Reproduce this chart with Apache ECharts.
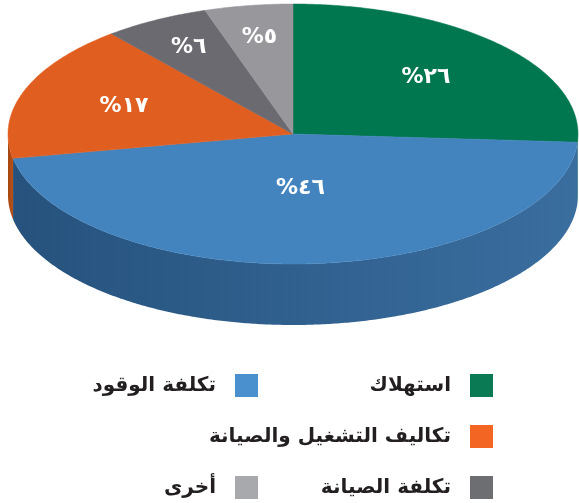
<!DOCTYPE html>
<html>
<head>
<meta charset="utf-8">
<script src="https://cdn.jsdelivr.net/npm/echarts@6/dist/echarts.min.js"></script>
<style>
html,body{margin:0;padding:0;background:#fff;}
#c{width:579px;height:503px;}
</style>
</head>
<body>
<div id="c"></div>
<script>
// ---- data ----
var categories = ['استهلاك', 'تكلفة الوقود', 'تكاليف التشغيل والصيانة', 'تكلفة الصيانة', 'أخرى'];
var values = [26, 46, 17, 6, 5];

// ---- styles ----
var topColors = ['#00774f', '#4384bf', '#e05e20', '#6a6a70', '#98979c'];
var sideColors = [
  ['#005a3c', '#006a46'],
  ['#26527d', '#3a6e9f'],
  ['#a6460f', '#b8501a'],
  ['#4f4f54', '#5a5a60'],
  ['#76757a', '#828186']
];
var legendColors = ['#0a7a55', '#4a90cf', '#f26522', '#6d6e71', '#a7a9ac'];
var labelRadius = [0.64, 0.42, 0.63, 0.76, 0.75];

var geo = { cx: 293, cy: 134, rx: 285, ry: 130, depth: 61 };

function toArabicDigits(n) {
  return String(n).replace(/\d/g, function (d) { return '٠١٢٣٤٥٦٧٨٩'[+d]; });
}

var total = values.reduce(function (a, b) { return a + b; }, 0);

function pt(theta, dy) {
  return [geo.cx + geo.rx * Math.sin(theta), geo.cy - geo.ry * Math.cos(theta) + (dy || 0)];
}

function makeRender(idx) {
  return function (params, api) {
    var v = api.value(0);
    var before = 0;
    for (var k = 0; k < idx; k++) before += values[k];
    var a0 = before / total * Math.PI * 2;
    var a1 = (before + v) / total * Math.PI * 2;
    var children = [];
    var step = Math.PI / 360;
    // side wall (front half only)
    var s0 = Math.max(a0, Math.PI / 2), s1 = Math.min(a1, Math.PI * 1.5);
    if (s1 > s0) {
      var topPts = [], botPts = [];
      for (var t = s0; t < s1; t += step) { topPts.push(pt(t)); botPts.push(pt(t, geo.depth)); }
      topPts.push(pt(s1)); botPts.push(pt(s1, geo.depth));
      var poly = topPts.concat(botPts.reverse());
      children.push({
        type: 'polygon', z2: 1, silent: true,
        shape: { points: poly },
        style: {
          fill: { type: 'linear', x: 0, y: 0, x2: 1, y2: 0, colorStops: [
            { offset: 0, color: sideColors[idx][0] }, { offset: 1, color: sideColors[idx][1] }] },
          stroke: null
        }
      });
    }
    // top face
    var pts = [[geo.cx, geo.cy]];
    for (var t2 = a0; t2 < a1; t2 += step) pts.push(pt(t2));
    pts.push(pt(a1));
    children.push({
      type: 'polygon', z2: 10, silent: true,
      shape: { points: pts },
      style: { fill: topColors[idx], stroke: topColors[idx], lineWidth: 0.5 }
    });
    // label
    var mid = (a0 + a1) / 2, r = labelRadius[idx];
    children.push({
      type: 'text', z2: 20, silent: true,
      style: {
        text: '%' + toArabicDigits(v),
        x: geo.cx + geo.rx * r * Math.sin(mid),
        y: geo.cy - geo.ry * r * Math.cos(mid),
        fill: '#ffffff',
        font: 'bold 22px "DejaVu Sans"',
        align: 'center', verticalAlign: 'middle'
      }
    });
    return { type: 'group', children: children };
  };
}

var series = categories.map(function (name, i) {
  return {
    type: 'custom',
    name: name,
    coordinateSystem: 'none',
    silent: true,
    itemStyle: { color: legendColors[i] },
    renderItem: makeRender(i),
    data: [[values[i]]]
  };
});

var legendText = {
  fontSize: 20, fontWeight: 'bold', color: '#231f20',
  fontFamily: '"DejaVu Sans"', padding: [0, 14, 0, 0]
};

var chart = echarts.init(document.getElementById('c'), null, { renderer: 'canvas' });
chart.setOption({
  animation: false,
  backgroundColor: '#ffffff',
  legend: [
    {
      data: [categories[0], categories[2], categories[3]],
      orient: 'vertical', align: 'right', right: 86, top: 374, padding: 0,
      itemWidth: 23, itemHeight: 23, itemGap: 28, icon: 'rect',
      selectedMode: false, textStyle: legendText
    },
    {
      data: [categories[1], categories[4]],
      orient: 'vertical', align: 'right', right: 321, top: 374, padding: 0,
      itemWidth: 23, itemHeight: 23, itemGap: 79, icon: 'rect',
      selectedMode: false, textStyle: legendText
    }
  ],
  series: series
});
</script>
</body>
</html>
